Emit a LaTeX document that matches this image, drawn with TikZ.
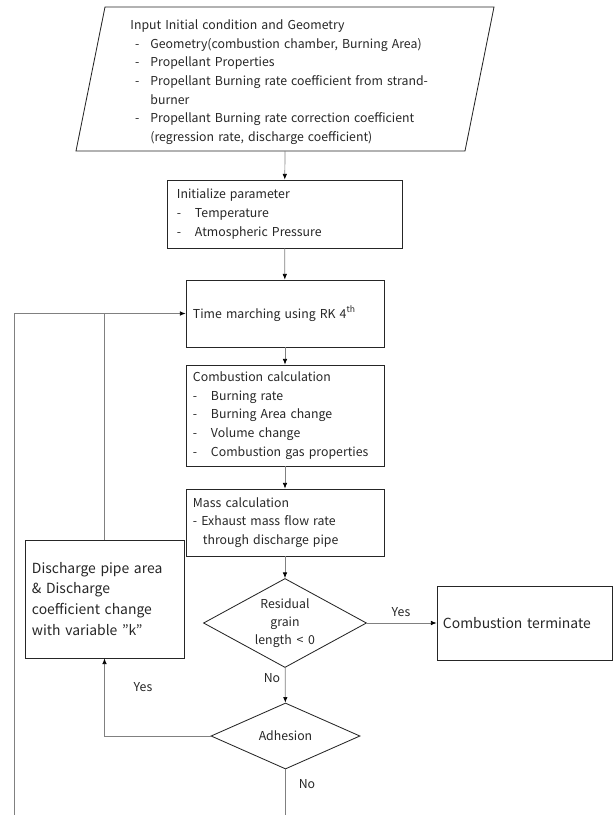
\documentclass[tikz,border=0pt]{standalone}
\usepackage{fontspec}
\setmainfont{Noto Sans CJK KR}
\usepackage{tikz}
\usetikzlibrary{positioning, arrows.meta, shapes.geometric}

\newcommand{\itm}[1]{\makebox[0.45cm][l]{-}#1}

\begin{document}
\hyphenpenalty=10000 \exhyphenpenalty=10000
\begin{tikzpicture}[x=0.025cm, y=-0.025cm,
    box/.style={rectangle, draw=black!85, line width=0.6pt, text=black!85, align=left, inner sep=0pt,
                font=\fontsize{8.75}{13.25}\selectfont},
    bigbox/.style={box, font=\fontsize{9.9}{14.9}\selectfont},
    decision/.style={diamond, draw=black!85, line width=0.6pt, text=black!85, align=center, inner sep=0pt,
                font=\fontsize{8.75}{12.8}\selectfont},
    conn/.style={draw=black!50, line width=0.5pt},
    arr/.style={conn, -{Latex[length=4pt, width=3.2pt, black]}},
    lbl/.style={text=black!85, font=\fontsize{8.75}{12}\selectfont, inner sep=0pt}]
    \useasboundingbox (0,0) rectangle (613,815);

    % input parallelogram
    \draw[black!85, line width=0.6pt] (105,7) -- (494,7) -- (465,151) -- (76,151) -- cycle;
    \node[box, draw=none, text width=9cm, anchor=north west] (input) at (130,19.5) {%
        Input Initial condition and Geometry\\
        \hspace*{0.12cm}\makebox[0.38cm][l]{-}Geometry(combustion chamber, Burning Area)\\
        \hspace*{0.12cm}\makebox[0.38cm][l]{-}Propellant Properties\\
        \hspace*{0.12cm}\makebox[0.38cm][l]{-}Propellant Burning rate coefficient from strand-\\
        \hspace*{0.5cm}burner\\
        \hspace*{0.12cm}\makebox[0.38cm][l]{-}Propellant Burning rate correction coefficient\\
        \hspace*{0.5cm}(regression rate, discharge coefficient)};

    \node[box, minimum width=5.875cm, minimum height=1.7cm, text width=5.375cm] (init) at (284.5,214) {%
        Initialize parameter\\
        \itm{Temperature}\\
        \itm{Atmospheric Pressure}};

    \node[box, minimum width=4.95cm, minimum height=1.675cm, text width=4.6cm] (time) at (285,313.5) {%
        Time marching using RK 4\textsuperscript{th}};

    \node[box, minimum width=4.95cm, minimum height=2.525cm, text width=4.6cm] (comb) at (285,415.5) {%
        Combustion calculation\\
        \itm{Burning rate}\\
        \itm{Burning Area change}\\
        \itm{Volume change}\\
        \itm{Combustion gas properties}};

    \node[box, minimum width=4.95cm, minimum height=1.675cm, text width=4.6cm] (mass) at (285,522.5) {%
        Mass calculation\\
        - Exhaust mass flow rate\\
        \hspace*{0.25cm}through discharge pipe};

    \node[bigbox, minimum width=3.975cm, minimum height=2.95cm, text width=3.625cm] (disch) at (104.5,599) {%
        Discharge pipe area\\
        \& Discharge\\
        coefficient change\\
        with variable \symbol{34}k\textquotedblright};

    \node[decision, minimum width=4.075cm, minimum height=2.225cm, shape aspect=1.83] (resid) at (285,623) {%
        Residual\\ grain\\ length \,<\, 0};

    \node[bigbox, minimum width=4.375cm, minimum height=1.85cm, text width=4.075cm] (term) at (524.5,623) {%
        Combustion terminate};

    \node[decision, minimum width=3.725cm, minimum height=1.65cm, shape aspect=2.25] (adh) at (285.5,736) {Adhesion};

    \coordinate (inbot) at (285,151);
    \coordinate (nobot) at (285.5,815);
    \coordinate (loopbot) at (14,815);

    \draw[arr] (inbot) -- (init);
    \draw[arr] (init) -- (time);
    \draw[arr] (time) -- (comb);
    \draw[arr] (comb) -- (mass);
    \draw[arr] (mass) -- (resid);
    \draw[arr] (resid) -- (term);
    \draw[arr] (resid) -- (adh);
    \draw[arr] (adh.west) -| (disch.south);
    \draw[conn] (adh) -- (nobot);
    \draw[arr] (loopbot) |- (time.west);
    \draw[conn] (disch.north) -- (disch.north |- time.west);

    % branch labels
    \node[lbl] (yesterm) at (401,612) {Yes};
    \node[lbl] (noadh) at (272,678) {No};
    \node[lbl] (yesdisch) at (143,687) {Yes};
    \node[lbl] (noend) at (307,784) {No};
\end{tikzpicture}
\end{document}
